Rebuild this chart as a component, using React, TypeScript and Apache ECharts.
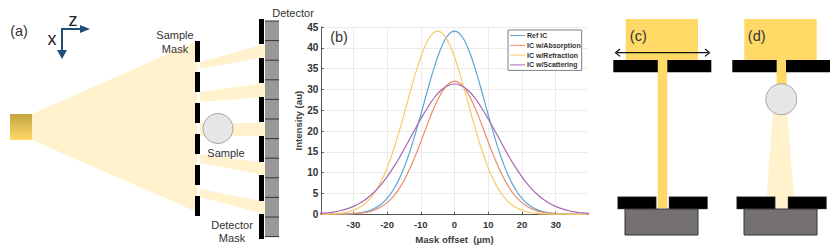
import React, { useEffect, useRef } from "react";
import * as echarts from "echarts";

const FONT = "Liberation Sans";
const evenX = [-40,-38,-36,-34,-32,-30,-28,-26,-24,-22,-20,-18,-16,-14,-12,-10,-8,-6,-4,-2,0,2,4,6,8,10,12,14,16,18,20,22,24,26,28,30,32,34,36,38,40];
const oddX = [-39,-37,-35,-33,-31,-29,-27,-25,-23,-21,-19,-17,-15,-13,-11,-9,-7,-5,-3,-1,1,3,5,7,9,11,13,15,17,19,21,23,25,27,29,31,33,35,37,39];
const refIC = [0,0.01,0.02,0.03,0.09,0.18,0.37,0.7,1.3,2.3,3.8,6.1,9.2,13.3,18.3,23.9,29.8,35.3,39.9,42.9,44,42.9,39.9,35.3,29.8,23.9,18.3,13.3,9.2,6.1,3.8,2.3,1.3,0.7,0.37,0.18,0.09,0.03,0.02,0.01,0];
const absorption = [0,0,0.01,0.03,0.06,0.13,0.27,0.5,0.95,1.7,2.8,4.4,6.7,9.7,13.3,17.4,21.7,25.7,29,31.2,32,31.2,29,25.7,21.7,17.4,13.3,9.7,6.7,4.4,2.8,1.7,0.95,0.5,0.27,0.13,0.06,0.03,0.01,0,0];
const refraction = [0.03,0.09,0.18,0.37,0.7,1.3,2.3,3.8,6.1,9.2,13.3,18.3,23.9,29.8,35.3,39.9,42.9,44,42.9,39.9,35.3,29.8,23.9,18.3,13.3,9.2,6.1,3.8,2.3,1.3,0.7,0.37,0.18,0.09,0.03,0.02,0.01,0,0,0];
const scattering = [0.21,0.34,0.54,0.85,1.3,1.9,2.7,3.8,5.2,6.9,9,11.4,14.1,17,20,22.9,25.6,28,29.8,30.9,31.3,30.9,29.8,28,25.6,22.9,20,17,14.1,11.4,9,6.9,5.2,3.8,2.7,1.9,1.3,0.85,0.54,0.34,0.21];
const xTicks = [-30,-20,-10,0,10,20,30];
const seriesNames = ["Ref IC","IC w/Absorption","IC w/Refraction","IC w/Scattering"];

const BEAM = "#fff2cc", GOLD = "#ffd966", BLUE = "#1f4e79";

const rect = (x: number, y: number, w: number, h: number, fill: string, extra: any = {}) => ({ type: "rect", shape: { x, y, width: w, height: h }, style: { fill, ...extra } });
const poly = (points: number[][], fill: string) => ({ type: "polygon", shape: { points }, style: { fill } });
const label = (x: number, y: number, text: string, size = 11, fill = "#333") => ({ type: "text", x, y, style: { text, font: `${size}px "${FONT}"`, fill, align: "center", verticalAlign: "middle", textAlign: "center", textVerticalAlign: "middle" } });
const seg = (x1: number, y1: number, x2: number, y2: number, stroke: string, lineWidth: number) => ({ type: "line", shape: { x1, y1, x2, y2 }, style: { stroke, lineWidth } });

const panelA = (): any[] => {
  const out: any[] = [];
  out.push(poly([[32,114],[32,140],[197,212],[197,41]], BEAM));
  out.push(poly([[200,62],[265,44],[265,57],[200,69]], BEAM));
  out.push(poly([[200,92],[265,83],[265,97],[200,102]], BEAM));
  out.push(rect(200,123,65,13,BEAM));
  out.push(poly([[200,154],[265,163],[265,175],[200,163]], BEAM));
  out.push(poly([[200,189],[265,202],[265,214],[200,197]], BEAM));
  out.push({ type: "rect", shape: { x: 10, y: 114, width: 22, height: 26 }, style: { fill: new echarts.graphic.LinearGradient(0,0,0,1,[{offset:0,color:"#c4a342"},{offset:1,color:"#ffd966"}]) } });
  [[41,21],[72,20],[103,20],[134,20],[165,20],[196,20]].forEach(([y,h]) => out.push(rect(195,y,5,h,"#000")));
  out.push(rect(265,21,14,216,"#999999"));
  for (let i = 0; i < 12; i++) out.push(seg(265,21+i*19.6,279,21+i*19.6,"#333",1));
  [[19,25],[58,25],[97,25],[136,26],[175,26],[214,25]].forEach(([y,h]) => out.push(rect(259,y,5,h,"#000")));
  out.push({ type: "circle", shape: { cx: 218, cy: 128.5, r: 15 }, style: { fill: "#e7e6e6", stroke: "#a6a6a6", lineWidth: 1 } });
  out.push(label(19,31,"(a)",14.5), label(175,35,"Sample"), label(175,49,"Mask"), label(226,153,"Sample"), label(232,225,"Detector"), label(232,238,"Mask"), label(293,13,"Detector"));
  out.push({ type: "polyline", shape: { points: [[81,29],[62,29],[62,50]] }, style: { stroke: BLUE, lineWidth: 2, fill: "none" } });
  out.push(poly([[80,25],[90,29],[80,33]], BLUE), poly([[57,50],[62,59],[67,50]], BLUE));
  out.push(label(73,20,"z",18,"#222"), label(52,39,"x",18,"#222"));
  return out;
};

const bottom = (ox: number): any[] => [
  rect(ox+7.7,196.7,38.5,12.3,"#000",{ stroke: "#555", lineWidth: 0.5 }),
  rect(ox+59,196.7,38.5,12.3,"#000",{ stroke: "#555", lineWidth: 0.5 }),
  rect(ox+15,209,73,26,"#767171",{ stroke: "#333", lineWidth: 1 }),
];

const panelC = (): any[] => [
  rect(625.7,19,72.3,41,GOLD),
  rect(657.7,60,9.6,148,GOLD),
  rect(613.3,60,44.5,12.3,"#000"), rect(667.3,60,44,12.3,"#000"),
  ...bottom(610),
  seg(617,52.7,708,52.7,"#111",1.2),
  { type: "polyline", shape: { points: [[620,49],[615.5,52.7],[620,56.4]] }, style: { stroke: "#111", lineWidth: 1.2, fill: "none" } },
  { type: "polyline", shape: { points: [[705,49],[709.5,52.7],[705,56.4]] }, style: { stroke: "#111", lineWidth: 1.2, fill: "none" } },
  label(638.3,35.7,"(c)",14.5),
];

const panelD = (): any[] => [
  rect(744.3,19,72.4,41,GOLD),
  rect(776.7,60,10,26,GOLD),
  poly([[772.7,113],[787.3,113],[794,197],[766.7,197]], BEAM),
  rect(775.3,197,12.7,11,BEAM),
  rect(732.3,60,44.4,12.3,"#000"), rect(786,60,44,12.3,"#000"),
  ...bottom(729),
  { type: "circle", shape: { cx: 781.3, cy: 99.3, r: 15.5 }, style: { fill: "#e7e6e6", stroke: "#a6a6a6", lineWidth: 1 } },
  label(756.7,35.7,"(d)",14.5),
];

const pair = (xs: number[], ys: number[]) => xs.map((x, i) => [x, ys[i]]);

export default function App() {
  const ref = useRef<HTMLDivElement>(null);
  useEffect(() => {
    const chart = echarts.init(ref.current!, null, { renderer: "svg" });
    const line = (name: string, data: number[][], color: string) => ({ name, type: "line", data, smooth: true, showSymbol: false, symbol: "none", lineStyle: { color, width: 1.2 }, itemStyle: { color } });
    chart.setOption({
      animation: false,
      backgroundColor: "#fff",
      textStyle: { fontFamily: FONT },
      grid: { left: 321.3, right: 830 - 587.7, top: 27, bottom: 251 - 214.3, containLabel: false },
      xAxis: {
        type: "value", min: -39.5, max: 39.5,
        name: "Mask offset  (µm)", nameLocation: "middle", nameGap: 16,
        nameTextStyle: { fontSize: 9.6, fontWeight: "bold", color: "#404040", fontFamily: FONT },
        axisLine: { show: true, onZero: false, lineStyle: { color: "#555", width: 1 } },
        axisTick: { show: true, inside: true, length: 2.5, customValues: xTicks, lineStyle: { color: "#555" } },
        axisLabel: { customValues: xTicks, fontSize: 9.5, fontWeight: "bold", color: "#333", margin: 5, fontFamily: FONT },
        splitLine: { show: true, lineStyle: { color: "#ebebeb", width: 1 } },
      },
      yAxis: {
        type: "value", min: 0, max: 45, interval: 5,
        name: "Intensity (au)", nameLocation: "middle", nameGap: 14, nameRotate: 90,
        nameTextStyle: { fontSize: 9.6, fontWeight: "bold", color: "#404040", fontFamily: FONT },
        axisLine: { show: true, onZero: false, lineStyle: { color: "#555", width: 1 } },
        axisTick: { show: true, inside: true, length: 2.5, lineStyle: { color: "#555" } },
        axisLabel: { fontSize: 10, fontWeight: "bold", color: "#333", margin: 3, fontFamily: FONT },
        splitLine: { show: true, lineStyle: { color: "#ebebeb", width: 1 } },
      },
      legend: {
        orient: "vertical", left: 508, top: 30, data: seriesNames,
        backgroundColor: "#fff", borderColor: "#808080", borderWidth: 1,
        padding: [1.5, 1, 1.5, 2], itemGap: 1.8, itemWidth: 15, itemHeight: 1,
        icon: "rect",
        textStyle: { fontSize: 7, fontWeight: "bold", color: "#333", lineHeight: 8, padding: [0, 0, 0, -3], fontFamily: FONT },
      },
      series: [
        line(seriesNames[0], pair(evenX, refIC), "#5aa6d8"),
        line(seriesNames[1], pair(evenX, absorption), "#ea8d6c"),
        line(seriesNames[2], pair(oddX, refraction), "#f6cb6a"),
        line(seriesNames[3], pair(evenX, scattering), "#a768b4"),
      ],
      graphic: [
        ...panelA(), ...panelC(), ...panelD(),
        label(339,37,"(b)",14.5),
      ],
    });
    return () => chart.dispose();
  }, []);
  return <div ref={ref} style={{ position: "fixed", left: 0, top: 0, width: 830, height: 251 }} />;
}
